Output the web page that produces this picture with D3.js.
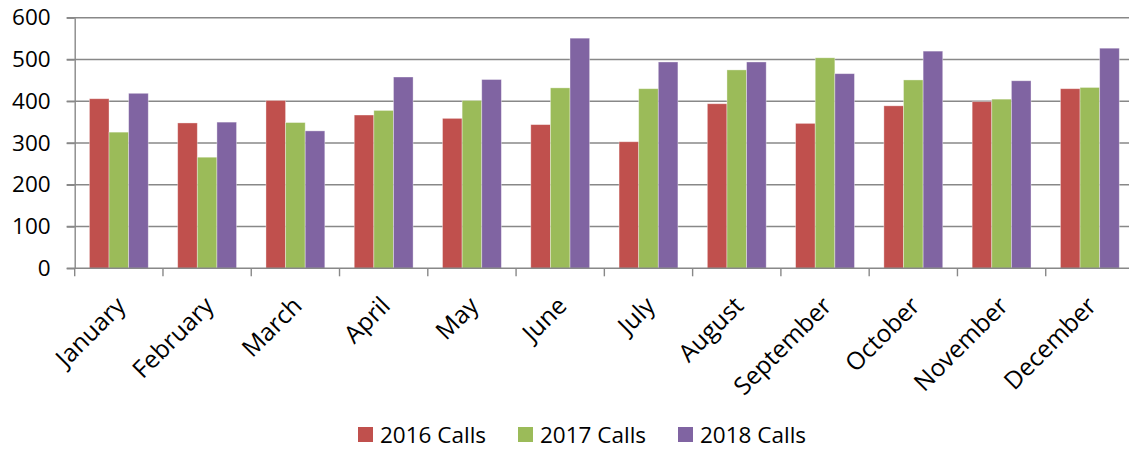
<!DOCTYPE html>
<html>
<head>
<meta charset="utf-8">
<script src="https://cdn.jsdelivr.net/npm/d3@7"></script>
<style>
  html, body { margin: 0; padding: 0; background: #fff; }
  svg { display: block; }
  text { font-family: "Open Sans", sans-serif; fill: #000; }
</style>
</head>
<body>
<svg id="chart" width="1129" height="449"></svg>
<script>
// Monthly call volumes by year
const months = ["January", "February", "March", "April", "May", "June",
                "July", "August", "September", "October", "November", "December"];
const seriesNames = ["2016 Calls", "2017 Calls", "2018 Calls"];
const calls2016 = [406, 348, 402, 367, 359, 344, 303, 394, 347, 389, 399, 430];
const calls2017 = [326, 266, 349, 378, 402, 432, 430, 475, 504, 451, 405, 433];
const calls2018 = [419, 350, 329, 458, 452, 551, 494, 494, 466, 520, 449, 527];
const yTicks = [0, 100, 200, 300, 400, 500, 600];
const colors = ["#C0504D", "#9BBB59", "#8064A2"];

const series = [calls2016, calls2017, calls2018];

const svg = d3.select("#chart");
const plot = { left: 74.7, right: 1134, top: 17.7, bottom: 268.3 };
const gridColor = "#888888";
const fontSize = 22.5;
const monthFontSize = 24.5;

const x = d3.scaleBand().domain(months).range([plot.left, plot.right]).paddingInner(0).paddingOuter(0);
const y = d3.scaleLinear().domain([0, 600]).range([plot.bottom, plot.top]);

// gap between clusters is 1.5 bar widths
const barW = x.bandwidth() / 4.5;
const xs = d3.scaleBand().domain(d3.range(series.length))
  .range([barW * 0.75, barW * 3.75]).paddingInner(0).paddingOuter(0);

// horizontal gridlines
svg.append("g").selectAll("line").data(yTicks.filter(d => d > 0)).join("line")
  .attr("x1", plot.left - 8).attr("x2", plot.right)
  .attr("y1", d => y(d)).attr("y2", d => y(d))
  .attr("stroke", gridColor).attr("stroke-width", 1.4);

// bars
series.forEach((vals, si) => {
  svg.append("g").selectAll("rect").data(vals).join("rect")
    .attr("x", (d, i) => x(months[i]) + xs(si))
    .attr("y", d => y(d))
    .attr("width", xs.bandwidth())
    .attr("height", d => y(0) - y(d))
    .attr("fill", colors[si])
    .attr("stroke", "#ffffff").attr("stroke-opacity", 0.45).attr("stroke-width", 0.8);
});

// y axis
const yAxis = d3.axisLeft(y).tickValues(yTicks).tickSize(8).tickPadding(16).tickSizeOuter(0);
const gy = svg.append("g").attr("transform", `translate(${plot.left},0)`).call(yAxis);
gy.select(".domain").attr("stroke", gridColor).attr("stroke-width", 1.4);
gy.selectAll(".tick line").attr("stroke", gridColor).attr("stroke-width", 1.4);
gy.selectAll(".tick text").attr("font-size", fontSize).attr("font-family", "Open Sans").attr("fill", "#000");

// x axis baseline and category separators
const gx = svg.append("g");
gx.append("line").attr("x1", plot.left - 8).attr("x2", plot.right)
  .attr("y1", y(0)).attr("y2", y(0)).attr("stroke", gridColor).attr("stroke-width", 1.4);
const bounds = months.map(m => x(m)).concat([plot.right]);
gx.selectAll("line.sep").data(bounds).join("line").attr("class", "sep")
  .attr("x1", d => d).attr("x2", d => d)
  .attr("y1", y(0)).attr("y2", y(0) + 8)
  .attr("stroke", gridColor).attr("stroke-width", 1.4);

// rotated month labels
gx.selectAll("text").data(months).join("text")
  .attr("transform", d => `translate(${x(d) + x.bandwidth() / 2 + 2},${y(0) + 33}) rotate(-45)`)
  .attr("text-anchor", "end").attr("dy", "0.35em")
  .attr("font-size", monthFontSize)
  .text(d => d);

// legend
const legendX = [358, 518, 678];
const lg = svg.append("g").selectAll("g").data(seriesNames).join("g")
  .attr("transform", (d, i) => `translate(${legendX[i]},427)`);
lg.append("rect").attr("width", 15).attr("height", 15).attr("fill", (d, i) => colors[i]);
lg.append("text").attr("x", 22).attr("y", 15.5).attr("font-size", fontSize).text(d => d);
</script>
</body>
</html>
